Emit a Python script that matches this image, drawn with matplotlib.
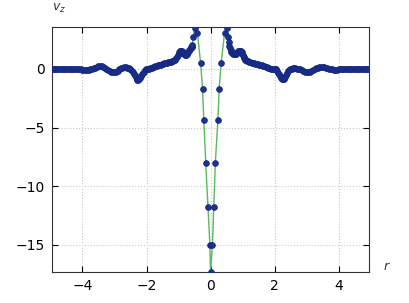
import numpy as np
import matplotlib
matplotlib.use("Agg")
import matplotlib.pyplot as plt

# left tail (dense samples)
r_left = [-4.95, -4.90, -4.85, -4.80, -4.75, -4.70, -4.65, -4.60, -4.55, -4.50,
          -4.45, -4.40, -4.35, -4.30, -4.25, -4.20, -4.15, -4.10, -4.05, -4.00,
          -3.95, -3.90, -3.85, -3.80, -3.75, -3.70, -3.65, -3.60, -3.55, -3.50,
          -3.45, -3.40, -3.35, -3.30, -3.25, -3.20, -3.15, -3.10, -3.05, -3.00,
          -2.95, -2.90, -2.85, -2.80, -2.75, -2.70, -2.65, -2.60, -2.55, -2.51,
          -2.47, -2.43, -2.40, -2.37, -2.34, -2.31, -2.29, -2.26, -2.24, -2.21,
          -2.18, -2.15, -2.12, -2.09, -2.06, -2.03, -2.00, -1.96, -1.92, -1.88,
          -1.84, -1.80, -1.76, -1.72, -1.68, -1.64, -1.60, -1.56, -1.52, -1.48,
          -1.44, -1.40, -1.36, -1.32, -1.28, -1.24, -1.20, -1.16, -1.13, -1.10,
          -1.07, -1.04, -1.02, -1.00, -0.98, -0.96, -0.94, -0.92, -0.90, -0.88,
          -0.86, -0.84, -0.82, -0.80, -0.78, -0.76, -0.74, -0.72, -0.70, -0.68,
          -0.66, -0.64, -0.62, -0.60, -0.59, -0.58, -0.57]
v_left = [0.00, 0.00, 0.00, 0.00, 0.00, 0.00, -0.01, -0.01, -0.02, -0.02,
          -0.02, -0.02, -0.02, -0.02, -0.02, -0.02, -0.03, -0.04, -0.05, -0.06,
          -0.07, -0.08, -0.08, -0.07, -0.05, -0.01, 0.05, 0.10, 0.15, 0.21,
          0.25, 0.24, 0.18, 0.10, 0.00, -0.09, -0.18, -0.25, -0.30, -0.30,
          -0.25, -0.16, -0.05, 0.04, 0.10, 0.13, 0.12, 0.10, 0.04, -0.03,
          -0.12, -0.25, -0.40, -0.55, -0.72, -0.85, -0.92, -0.93, -0.88, -0.75,
          -0.60, -0.47, -0.35, -0.23, -0.12, -0.05, -0.03, 0.00, 0.03, 0.06,
          0.10, 0.14, 0.18, 0.22, 0.26, 0.30, 0.34, 0.37, 0.40, 0.43,
          0.46, 0.50, 0.54, 0.57, 0.60, 0.63, 0.67, 0.70, 0.75, 0.80,
          0.90, 1.02, 1.15, 1.28, 1.40, 1.50, 1.55, 1.55, 1.50, 1.45,
          1.40, 1.33, 1.28, 1.22, 1.20, 1.20, 1.24, 1.30, 1.40, 1.50,
          1.60, 1.70, 1.78, 1.84, 1.88, 1.94, 2.00]

# centre (sparse samples)
r_mid = [-0.54, -0.50, -0.41, -0.31, -0.25, -0.21, -0.15, -0.08, -0.02, 0.00,
         0.06, 0.10, 0.15, 0.23, 0.27, 0.33, 0.44, 0.50, 0.55]
v_mid = [2.75, 3.47, 3.10, 0.48, -1.68, -4.35, -8.00, -11.80, -15.00, -17.30,
         -15.00, -11.80, -8.00, -4.35, -1.68, 0.48, 3.10, 3.47, 2.70]

# right tail (dense samples)
r_right = [0.57, 0.59, 0.61, 0.63, 0.65, 0.67, 0.69, 0.71, 0.73, 0.75,
           0.77, 0.79, 0.81, 0.83, 0.85, 0.87, 0.89, 0.91, 0.93, 0.95,
           0.97, 0.99, 1.01, 1.03, 1.05, 1.07, 1.10, 1.13, 1.16, 1.20,
           1.24, 1.28, 1.32, 1.36, 1.40, 1.44, 1.48, 1.52, 1.56, 1.60,
           1.64, 1.68, 1.72, 1.76, 1.80, 1.84, 1.88, 1.92, 1.96, 2.00,
           2.03, 2.06, 2.09, 2.12, 2.14, 2.17, 2.19, 2.22, 2.25, 2.28,
           2.30, 2.33, 2.36, 2.39, 2.42, 2.45, 2.49, 2.53, 2.57, 2.61,
           2.65, 2.70, 2.75, 2.80, 2.85, 2.90, 2.95, 3.00, 3.05, 3.10,
           3.15, 3.20, 3.25, 3.30, 3.35, 3.40, 3.45, 3.50, 3.55, 3.60,
           3.65, 3.70, 3.75, 3.80, 3.85, 3.90, 3.95, 4.00, 4.05, 4.10,
           4.15, 4.20, 4.25, 4.30, 4.35, 4.40, 4.45, 4.50, 4.55, 4.60,
           4.65, 4.70, 4.75, 4.80, 4.85, 4.90, 4.95]
v_right = [2.30, 1.96, 1.78, 1.62, 1.48, 1.38, 1.32, 1.28, 1.26, 1.25,
           1.26, 1.28, 1.32, 1.38, 1.45, 1.50, 1.54, 1.56, 1.56, 1.50,
           1.42, 1.30, 1.17, 1.02, 0.90, 0.80, 0.72, 0.68, 0.64, 0.60,
           0.56, 0.52, 0.49, 0.46, 0.43, 0.41, 0.38, 0.36, 0.33, 0.30,
           0.26, 0.22, 0.17, 0.13, 0.09, 0.05, 0.03, 0.01, 0.00, -0.02,
           -0.03, -0.08, -0.18, -0.32, -0.45, -0.62, -0.75, -0.85, -0.88, -0.85,
           -0.78, -0.65, -0.50, -0.36, -0.22, -0.12, -0.03, 0.03, 0.06, 0.07,
           0.06, 0.03, 0.00, -0.05, -0.12, -0.19, -0.26, -0.30, -0.30, -0.25,
           -0.18, -0.09, 0.00, 0.06, 0.10, 0.13, 0.14, 0.14, 0.12, 0.08,
           0.04, 0.01, -0.02, -0.04, -0.06, -0.07, -0.07, -0.05, -0.03, -0.01,
           0.01, 0.03, 0.03, 0.03, 0.03, 0.02, 0.02, 0.01, 0.01, 0.00,
           0.00, 0.00, 0.00, 0.00, 0.00, 0.00, 0.00]

r = np.array(r_left + r_mid + r_right)
v = np.array(v_left + v_mid + v_right)

xticks = [-4, -2, 0, 2, 4]
yticks = [0, -5, -10, -15]

fig = plt.figure(figsize=(4.1, 3.03), dpi=100)
ax = fig.add_axes([0.127, 0.101, 0.773, 0.811])

ax.plot(r, v, "-", color="#5cb85c", lw=1.0, zorder=2)
ax.plot(r, v, "o", ms=4.1, mfc="#1c3192", mec="#14287e", mew=0.6, zorder=3)

ax.set_xlim(-4.95, 4.95)
ax.set_ylim(-17.35, 3.6)
ax.set_xticks(xticks)
ax.set_yticks(yticks)
ax.tick_params(direction="in", length=4, labelsize=10, top=True, right=True, pad=5)
ax.grid(True, linestyle=":", color="#c8c8c8", lw=0.8)
for s in ax.spines.values():
    s.set_color("#333333")

ax.text(0.0, 1.065, "$v_z$", transform=ax.transAxes, fontsize=9, color="#333333")
ax.text(1.045, 0.01, "$r$", transform=ax.transAxes, fontsize=9, color="#333333")

fig.savefig("out.png", dpi=100)
